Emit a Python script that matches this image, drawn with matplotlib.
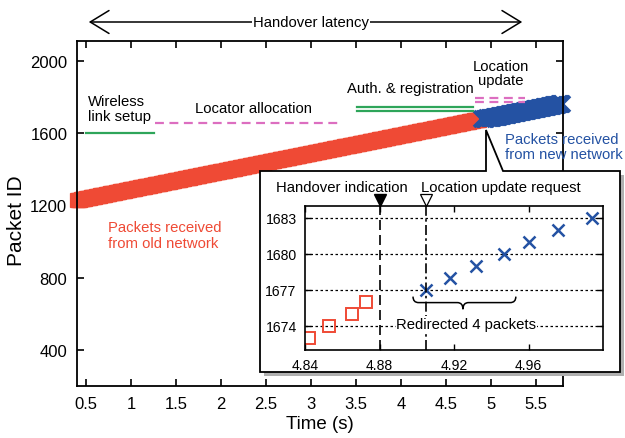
import numpy as np
import matplotlib
matplotlib.use('Agg')
import matplotlib.pyplot as plt
from matplotlib.patches import Polygon, PathPatch, FancyArrowPatch
from matplotlib.path import Path

plt.rcParams['font.family'] = ['Liberation Sans', 'DejaVu Sans']

# packets received from the old network (IDs are consecutive, one every ~10 ms)
old_first_id = 1229
old_first_t = 0.40
old_interval = 0.010
# last four old packets
old_tail_t = [4.842, 4.853, 4.865, 4.873]
old_tail_id = [1673, 1674, 1675, 1676]

# first packets from the new network
new_head_t = [4.905, 4.918, 4.932, 4.947, 4.960, 4.976, 4.994]
new_head_id = [1677, 1678, 1679, 1680, 1681, 1682, 1683]
new_last_id = 1762
new_interval = 0.010

x_ticks = [0.5, 1, 1.5, 2, 2.5, 3, 3.5, 4, 4.5, 5, 5.5]
x_tick_labels = ['0.5', '1', '1.5', '2', '2.5', '3', '3.5', '4', '4.5', '5', '5.5']
y_ticks = [400, 800, 1200, 1600, 2000]
inset_x_ticks = [4.84, 4.88, 4.92, 4.96]
inset_y_ticks = [1674, 1677, 1680, 1683]

handover_t = 4.88
loc_request_t = 4.905

old_ids = np.arange(old_first_id, old_tail_id[0])
old_t = np.concatenate([old_first_t + (old_ids - old_first_id) * old_interval, old_tail_t])
old_ids = np.concatenate([old_ids, old_tail_id])
new_ids = np.arange(new_head_id[-1] + 1, new_last_id + 1)
new_t = np.concatenate([new_head_t, new_head_t[-1] + (new_ids - new_head_id[-1]) * new_interval])
new_ids = np.concatenate([new_head_id, new_ids])

red = '#ef4a35'
blue = '#2452a3'
green = '#2ea55a'
pink = '#dc6ec0'
fs = 10.7

W, H = 625, 439
fig = plt.figure(figsize=(W / 100, H / 100), dpi=100)


def fx(px):
    return px / W


def fy(py):
    return 1 - py / H


ax = fig.add_axes([fx(77), fy(387), fx(563) - fx(77), fy(42) - fy(387)])
ax.plot(old_t, old_ids, 's', ms=10, mfc='none', mec=red, mew=0.9, clip_on=False)
ax.plot(new_t, new_ids, 'x', ms=12, mec=blue, mew=2.6, clip_on=False)
ax.set_xlim(0.4, 5.8)
ax.set_ylim(200, 2110)
ax.set_xticks(x_ticks)
ax.set_xticklabels(x_tick_labels)
ax.set_yticks(y_ticks)
ax.tick_params(direction='in', top=True, right=True, length=5, width=1.2,
               labelsize=12, pad=7)
for s in ax.spines.values():
    s.set_linewidth(1.3)
ax.set_xlabel('Time (s)', fontsize=13.5, labelpad=3)
ax.set_ylabel('Packet ID', fontsize=15)
ax.yaxis.set_label_coords(-0.105, 0.481)

# phases of the handover
ax.plot([0.5, 1.25], [1600, 1600], color=green, lw=1.6)
ax.text(0.52, 1737, 'Wireless\nlink setup', fontsize=fs, va='center', ha='left',
        linespacing=1.1)
ax.plot([1.27, 3.33], [1658, 1658], color=pink, lw=1.6, ls=(0, (4, 2.5)))
ax.text(2.36, 1737, 'Locator allocation', fontsize=fs, va='center', ha='center')
ax.plot([3.51, 4.80], [1745, 1745], color=green, lw=1.6)
ax.plot([3.51, 4.80], [1722, 1722], color=green, lw=1.6)
ax.text(4.1, 1850, 'Auth. & registration', fontsize=fs, va='center', ha='center')
ax.plot([4.82, 5.38], [1797, 1797], color=pink, lw=1.6, ls=(0, (4, 2.5)))
ax.plot([4.82, 5.38], [1775, 1775], color=pink, lw=1.6, ls=(0, (4, 2.5)))
ax.text(5.11, 1932, 'Location\nupdate', fontsize=fs, va='center', ha='center',
        linespacing=1.05)
ax.text(5.16, 1526, 'Packets received\nfrom new network', fontsize=fs, color=blue,
        va='center', ha='left', linespacing=1.15, clip_on=False)
ax.text(0.74, 1035, 'Packets received\nfrom old network', fontsize=fs, color=red,
        va='center', ha='left', linespacing=1.15)

# handover latency arrow above the plot
fig.add_artist(FancyArrowPatch(
    (fx(86), fy(23)), (fx(525), fy(23)), transform=fig.transFigure,
    arrowstyle='<->,head_length=0.9,head_width=0.55', mutation_scale=15,
    color='k', lw=1.1))
fig.text(fx(311), fy(23), 'Handover latency', fontsize=fs, ha='center', va='center',
         bbox=dict(fc='white', ec='none', pad=1))

# callout box with shadow
pts = [(260, 172), (486, 172), (486, 131), (503, 172), (620, 172), (620, 373), (260, 373)]
shadow = [(264, 176), (624, 176), (624, 377), (264, 377)]
fig.add_artist(Polygon([(fx(x), fy(y)) for x, y in shadow], closed=True,
                       transform=fig.transFigure, fc='#b0b0b0', ec='none', zorder=2))
fig.add_artist(Polygon([(fx(x), fy(y)) for x, y in pts], closed=True,
                       transform=fig.transFigure, fc='white', ec='k', lw=1.3, zorder=2.5))

ax2 = fig.add_axes([fx(305), fy(351), fx(603) - fx(305), fy(207) - fy(351)], zorder=3)
ax2.plot(old_t, old_ids, 's', ms=8.5, mfc='none', mec=red, mew=1.4)
ax2.plot(new_t, new_ids, 'x', ms=8, mec=blue, mew=1.8)
ax2.set_xlim(4.84, 5.0)
ax2.set_ylim(1672, 1684)
ax2.set_xticks(inset_x_ticks)
ax2.set_xticklabels(['%.2f' % v for v in inset_x_ticks])
ax2.set_yticks(inset_y_ticks)
ax2.tick_params(direction='in', top=True, right=True, length=4, width=1,
                labelsize=10.1, pad=6)
for s in ax2.spines.values():
    s.set_linewidth(1.2)
ax2.yaxis.grid(True, ls=(0, (2, 2)), color='k', lw=0.9)
ax2.axvline(handover_t, color='k', lw=1.2, ls=(0, (6, 3)))
ax2.axvline(loc_request_t, color='k', lw=1.2, ls=(0, (6, 2, 1.5, 2)))
ax2.plot([handover_t], [1684.5], 'v', ms=8, color='k', clip_on=False)
ax2.plot([loc_request_t], [1684.5], 'v', ms=8, mfc='white', mec='k', mew=0.9,
         clip_on=False)
ax2.text(4.86, 1685.6, 'Handover indication', fontsize=fs, ha='center',
         va='center', clip_on=False)
ax2.text(4.945, 1685.6, 'Location update request', fontsize=fs, ha='center',
         va='center', clip_on=False)

# brace under the redirected packets
xl, xm, xr = 4.898, 4.9248, 4.9532
yt, yb, ytip = 1676.45, 1675.95, 1675.4
d = 0.003
verts = [(xl, yt), (xl, yb), (xl + d, yb), (xm - d, yb), (xm, yb), (xm, ytip),
         (xm, yb), (xm + d, yb), (xr - d, yb), (xr, yb), (xr, yt)]
codes = [Path.MOVETO, Path.CURVE3, Path.CURVE3, Path.LINETO, Path.CURVE3, Path.CURVE3,
         Path.CURVE3, Path.CURVE3, Path.LINETO, Path.CURVE3, Path.CURVE3]
ax2.add_patch(PathPatch(Path(verts, codes), fc='none', ec='k', lw=1.1))
ax2.text(4.9266, 1674.15, 'Redirected 4 packets', fontsize=fs, ha='center',
         va='center', bbox=dict(fc='white', ec='none', pad=0.5))

fig.savefig('out.png', dpi=100)
